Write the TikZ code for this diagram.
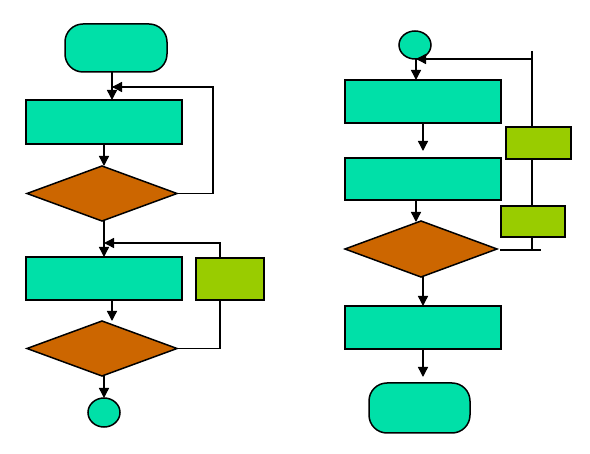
\documentclass[tikz,border=0pt]{standalone}
\usetikzlibrary{arrows.meta,shapes.geometric}
\definecolor{teal1}{HTML}{00E0A8}
\definecolor{brown1}{HTML}{CC6600}
\definecolor{green1}{HTML}{99CC00}
\tikzset{
  x=1pt,y=-1pt,
  base/.style={draw=black,line width=1.5pt,inner sep=0pt,outer sep=0pt},
  procbox/.style={base,rectangle,fill=teal1},
  sidebox/.style={base,rectangle,fill=green1},
  decbox/.style={base,diamond,fill=brown1},
  termbox/.style={base,rectangle,rounded corners=18pt,fill=teal1},
  connbox/.style={base,ellipse,fill=teal1},
  line/.style={line width=1.4pt,draw=black},
  arr/.style={line,-{Triangle[length=10pt,width=10pt]}},
}
\begin{document}
\begin{tikzpicture}
\useasboundingbox (0,0) rectangle (590,454);
% ---------- left flowchart ----------
\node[termbox,minimum width=102pt,minimum height=48pt] (t1) at (116,48) {};
\node[procbox,minimum width=156pt,minimum height=44pt] (r1) at (104,122) {};
\node[decbox,minimum width=150pt,minimum height=55pt] (d1) at (102,193.5) {};
\node[procbox,minimum width=156pt,minimum height=43pt] (r2) at (104,278.5) {};
\node[sidebox,minimum width=68pt,minimum height=42pt] (g1) at (230,279) {};
\node[decbox,minimum width=150pt,minimum height=55pt] (d2) at (102,348.5) {};
\node[connbox,minimum width=32pt,minimum height=29pt] (c1) at (104,412.5) {};
\coordinate (j1) at (112,87);
\coordinate (j2) at (104,243);

\draw[arr] ([xshift=-4pt]t1.south) -- ([xshift=8pt]r1.north);
\draw[arr] (r1.south) -- (r1.south |- d1.north);
\draw[line] (d1.east) -- ++(36,0) |- (j1);
\draw[arr] ([xshift=40pt]j1) -- (j1);
\draw[arr] ([xshift=2pt]d1.south) -- ([xshift=2pt]d1.south |- r2.north);
\draw[line] (d2.east) -| ([xshift=-10pt]g1.south);
\draw[line] ([xshift=-10pt]g1.north) |- ([xshift=30pt]j2);
\draw[arr] ([xshift=30pt]j2) -- (j2);
\draw[arr] ([xshift=8pt]r2.south) -- ([xshift=10pt]d2.north);
\draw[arr] ([xshift=2pt]d2.south) -- ([xshift=2pt]d2.south |- c1.north);

% ---------- right flowchart ----------
\node[connbox,minimum width=32pt,minimum height=28pt] (c2) at (415,45) {};
\node[procbox,minimum width=156pt,minimum height=43pt] (rA) at (423,101.5) {};
\node[procbox,minimum width=156pt,minimum height=42pt] (rB) at (423,179) {};
\node[sidebox,minimum width=65pt,minimum height=32pt] (gA) at (538.5,143) {};
\node[sidebox,minimum width=64pt,minimum height=31pt] (gB) at (533,221.5) {};
\node[decbox,minimum width=152pt,minimum height=56pt] (d3) at (421,249) {};
\node[procbox,minimum width=156pt,minimum height=43pt] (rC) at (423,327.5) {};
\node[termbox,minimum width=101pt,minimum height=50pt] (t2) at (419.5,408) {};
\coordinate (top) at (532,51);
\coordinate (j3) at (532,59);
\coordinate (b1) at (532,250);

\draw[arr] ([xshift=1pt]c2.south) -- ([xshift=-7pt]rA.north);
\draw[line] (top) -- (top |- gA.north);
\draw[arr] (j3) -- ([xshift=1pt]c2.south);
\draw[arr] (rA.south) -- ([yshift=7pt]rB.north);
\draw[line] (gA.south -| top) -- (gB.north -| top);
\draw[line] (gB.south -| top) -- (b1);
\draw[line] ([xshift=-32pt]b1) -- ([xshift=9pt]b1);
\draw[arr] ([xshift=-7pt]rB.south) -- ([xshift=-5pt,yshift=-1pt]d3.north);
\draw[arr] ([xshift=2pt]d3.south) -- ([xshift=0pt]rC.north);
\draw[arr] (rC.south) -- ([xshift=3.5pt,yshift=6pt]t2.north);
\end{tikzpicture}
\end{document}
